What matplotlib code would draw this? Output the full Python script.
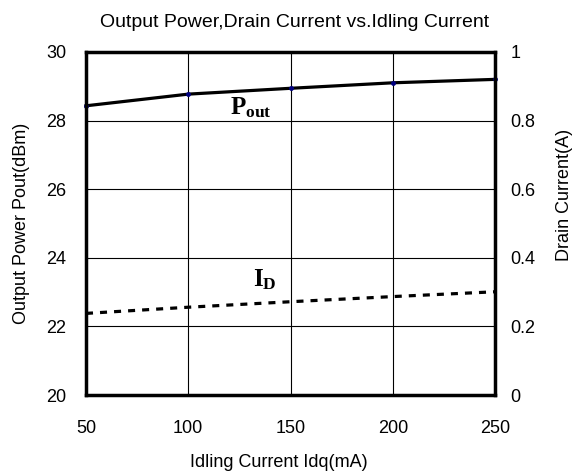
import matplotlib
matplotlib.use("Agg")
import matplotlib.pyplot as plt

plt.rcParams["font.family"] = ["Liberation Sans", "DejaVu Sans"]
plt.rcParams["mathtext.fontset"] = "custom"
plt.rcParams["mathtext.bf"] = "Liberation Serif:bold"
plt.rcParams["mathtext.rm"] = "Liberation Serif"

# data
idq = [50, 100, 150, 200, 250]
pout = [28.43, 28.77, 28.94, 29.10, 29.20]
drain = [0.238, 0.256, 0.272, 0.287, 0.301]

fig = plt.figure(figsize=(5.81, 4.72), dpi=100)
ax = fig.add_axes([0.148, 0.163, 0.704, 0.727])
ax2 = ax.twinx()

ax.plot(idq, pout, color="black", lw=2.3, marker="o", ms=2.5,
        mfc="#000080", mec="#000080", zorder=3, clip_on=False)
ax2.plot(idq, drain, color="black", lw=2.3, ls=(0, (2.2, 2.2)))

ax.set_xlim(50, 250)
ax.set_ylim(20, 30)
ax2.set_ylim(0, 1)
ax.set_xticks([50, 100, 150, 200, 250])
ax.set_yticks([20, 22, 24, 26, 28, 30])
ax2.set_yticks([0, 0.2, 0.4, 0.6, 0.8, 1])
ax2.set_yticklabels(["0", "0.2", "0.4", "0.6", "0.8", "1"])

ax.grid(True, color="black", lw=0.8)
ax.tick_params(axis="x", length=0, labelsize=13, pad=18)
ax.tick_params(axis="y", length=0, labelsize=13, pad=14)
ax2.tick_params(length=0, labelsize=13, pad=11)
for sp in ax2.spines.values():
    sp.set_linewidth(2.5)

ax.set_xlabel("Idling Current Idq(mA)", fontsize=13, labelpad=12, x=0.472)
ax.set_ylabel("Output Power Pout(dBm)", fontsize=13, labelpad=12)
ax2.set_ylabel("Drain Current(A)", fontsize=13, labelpad=15, y=0.583)
ax.set_title("Output Power,Drain Current vs.Idling Current", fontsize=14,
             pad=18, x=0.509)

ax.text(120.4, 28.18, r"$\mathbf{P_{out}}$", fontsize=18)
ax2.text(131.8, 0.318, r"$\mathbf{I_{D}}$", fontsize=18)

fig.savefig("out.png", dpi=100)
